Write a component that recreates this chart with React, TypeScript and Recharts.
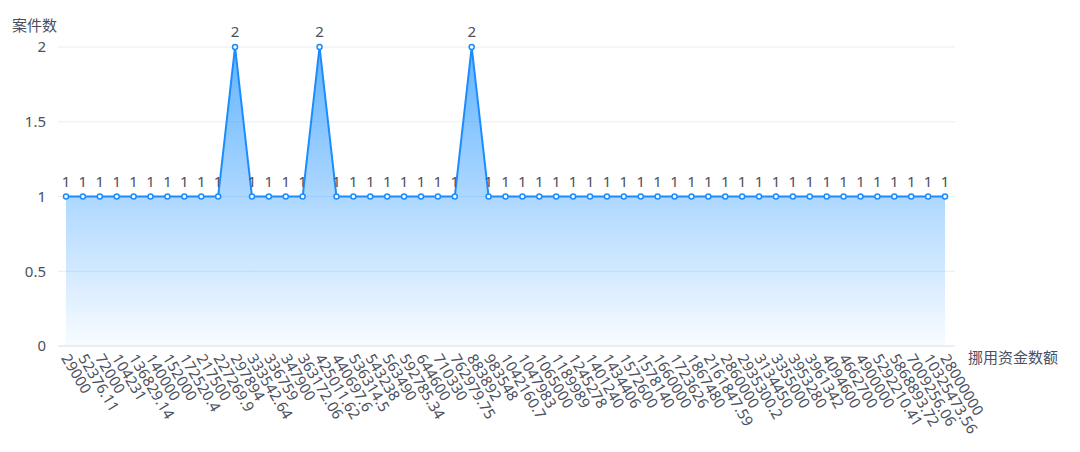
import { AreaChart, Area, XAxis, YAxis, CartesianGrid, LabelList } from 'recharts'

const amounts = [
  '29000', '52376.11', '72000', '104231', '136829.14', '140000', '152000', '172520.4',
  '217500', '227269.9', '297894', '333542.64', '336759', '347900', '363172.06', '425011.62',
  '440697.6', '536314.5', '543238', '563490', '592785.34', '644600', '710330', '762979.75',
  '883892', '983548', '1042160.7', '1047983', '1065000', '1189989', '1245278', '1401240',
  '1434406', '1572600', '1578140', '1660000', '1723626', '1867480', '2161847.59', '2860000',
  '2935300.2', '3134450', '3355000', '3953280', '3961342', '4094600', '4662700', '4900000',
  '5292210.41', '5868893.72', '7009256.06', '10325473.56', '28000000',
]

const caseCounts = [
  1, 1, 1, 1, 1, 1, 1, 1, 1, 1, 2, 1, 1, 1, 1, 2, 1, 1, 1, 1, 1, 1, 1, 1, 2, 1,
  1, 1, 1, 1, 1, 1, 1, 1, 1, 1, 1, 1, 1, 1, 1, 1, 1, 1, 1, 1, 1, 1, 1, 1, 1, 1, 1,
]

const yTicks = [0, 0.5, 1, 1.5, 2]

const data = amounts.map((a, i) => ({ amount: a, count: caseCounts[i] }))

const FONT = '"Noto Sans", "Noto Sans CJK SC", sans-serif'
const TEXT = '#4b5060'

function AmountTick({ x, y, payload }: any) {
  return (
    <text
      x={x}
      y={y}
      transform={`rotate(59, ${x}, ${y})`}
      textAnchor="start"
      dominantBaseline="central"
      fontSize={15}
      fill={TEXT}
      fontFamily={FONT}
    >
      {payload.value}
    </text>
  )
}

export default function App() {
  return (
    <div style={{ position: 'absolute', left: 0, top: 0, width: 1080, height: 452, background: '#fff', fontFamily: FONT }}>
      <div style={{ position: 'absolute', left: 12, top: 14, fontSize: 15, color: TEXT }}>案件数</div>
      <div style={{ position: 'absolute', left: 968, top: 346, fontSize: 15, color: TEXT }}>挪用资金数额</div>
      <AreaChart width={1080} height={452} data={data} margin={{ top: 47, right: 125, left: 0, bottom: 0 }}>
        <defs>
          <linearGradient id="areaFill" x1="0" y1="0" x2="0" y2="1">
            <stop offset="0%" stopColor="#1890ff" stopOpacity={0.68} />
            <stop offset="100%" stopColor="#1890ff" stopOpacity={0.03} />
          </linearGradient>
        </defs>
        <CartesianGrid vertical={false} stroke="#e8ecf4" />
        <XAxis
          dataKey="amount"
          interval={0}
          height={106}
          padding={{ left: 8, right: 10 }}
          axisLine={{ stroke: '#e0e6f1' }}
          tickLine={false}
          tick={<AmountTick />}
          tickMargin={3}
        />
        <YAxis
          width={58}
          domain={[0, 2]}
          ticks={yTicks}
          axisLine={false}
          tickLine={false}
          tickMargin={6}
          tick={{ fontSize: 15, fill: TEXT, fontFamily: FONT }}
        />
        <Area
          type="linear"
          dataKey="count"
          stroke="#1a8cff"
          strokeWidth={2}
          fill="url(#areaFill)"
          fillOpacity={1}
          dot={{ r: 2.5, fill: '#fff', stroke: '#1a8cff', strokeWidth: 1.5 }}
          activeDot={false}
          isAnimationActive={false}
        >
          <LabelList dataKey="count" position="top" offset={10} fontSize={15} fill={TEXT} fontFamily={FONT} />
        </Area>
      </AreaChart>
    </div>
  )
}
